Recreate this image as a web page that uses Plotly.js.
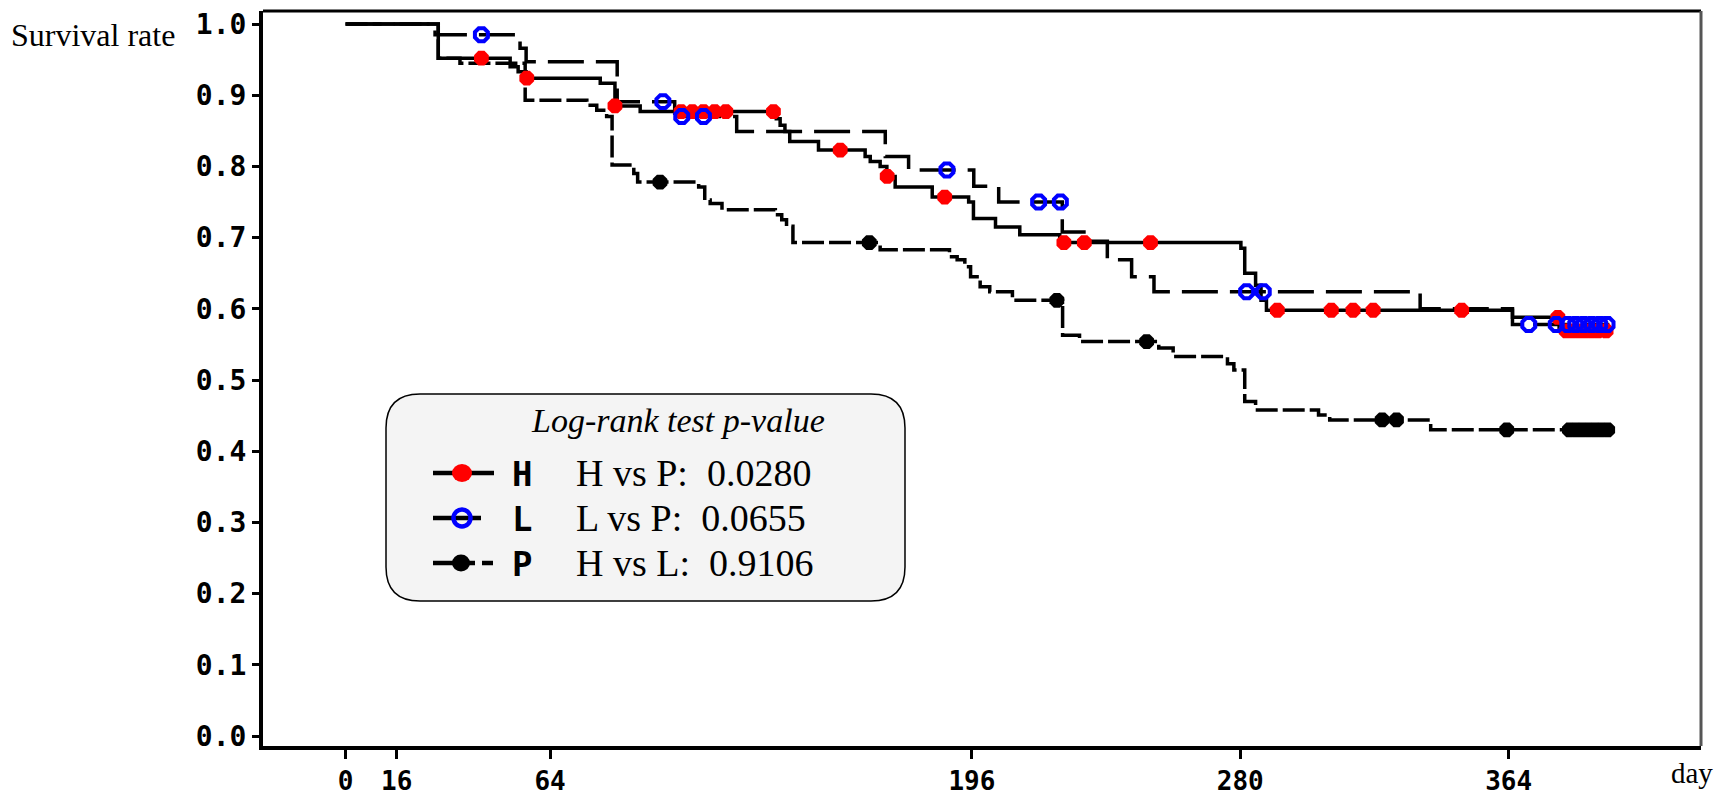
<!DOCTYPE html>
<html>
<head>
<meta charset="utf-8">
<script src="https://cdn.plot.ly/plotly-3.0.1.min.js"></script>
<style>
  html, body { margin: 0; padding: 0; background: #ffffff; }
  #chart { width: 1717px; height: 798px; }
</style>
</head>
<body>
<div id="chart"></div>
<script>
// ---------------- data ----------------
// Kaplan-Meier step curves: event day / survival after that day
const H_days = [0, 29, 51.5, 54, 56.5, 79.7, 84.3, 92.2, 134.8, 136, 137.5, 139, 148, 162.6, 164.2, 167.3, 169.4, 172, 183.6, 195, 196.5, 203.4, 211, 223.5, 280.2, 281.4, 284.8, 286.5, 288.2, 365.2, 379.8, 395.5];
const H_surv = [1.0, 0.952, 0.940, 0.933, 0.924, 0.917, 0.885, 0.877, 0.867, 0.858, 0.849, 0.835, 0.823, 0.814, 0.807, 0.800, 0.786, 0.771, 0.757, 0.750, 0.727, 0.715, 0.704, 0.693, 0.685, 0.650, 0.633, 0.612, 0.598, 0.588, 0.569, 0.569];

const L_days = [0, 28, 54.6, 56.5, 85, 103, 122.4, 168.9, 176.2, 196.6, 204.4, 224.3, 232.6, 238.4, 246, 253, 336.3, 365.2, 395.5];
const L_surv = [1.0, 0.985, 0.966, 0.947, 0.891, 0.870, 0.849, 0.814, 0.795, 0.772, 0.750, 0.708, 0.695, 0.669, 0.645, 0.624, 0.600, 0.578, 0.578];

const P_days = [0, 29, 35.8, 56.2, 75.5, 78.6, 81.7, 83.4, 90.2, 91.4, 110.5, 112.4, 114.1, 117.8, 134.5, 136.5, 138, 140, 167.3, 189, 191.4, 193.8, 195.6, 198.6, 201.6, 208.7, 224.4, 229.7, 254.5, 259, 276, 278, 281.4, 284.8, 304.5, 308, 339.6, 395.5];
const P_surv = [1.0, 0.952, 0.945, 0.893, 0.886, 0.879, 0.870, 0.802, 0.790, 0.778, 0.771, 0.753, 0.748, 0.739, 0.732, 0.725, 0.716, 0.693, 0.683, 0.673, 0.669, 0.659, 0.645, 0.631, 0.624, 0.612, 0.563, 0.554, 0.545, 0.533, 0.523, 0.514, 0.470, 0.458, 0.451, 0.444, 0.430, 0.430];

// censored observations
const H_censDays = [42.5, 56.7, 84.3, 105, 108.5, 112, 115.5, 119, 133.9, 154.8, 169.5, 187.5, 224.8, 231.2, 251.9, 291.6, 308.5, 315.3, 321.6, 349.3, 379.4, 382, 384, 386, 388, 390, 392, 394.5];
const H_censSurv = [0.952, 0.924, 0.885, 0.877, 0.877, 0.877, 0.877, 0.877, 0.877, 0.823, 0.786, 0.757, 0.693, 0.693, 0.693, 0.598, 0.598, 0.598, 0.598, 0.598, 0.588, 0.569, 0.569, 0.569, 0.569, 0.569, 0.569, 0.569];

const L_censDays = [42.5, 99.3, 105.2, 112, 188.2, 216.9, 223.7, 282, 287.2, 370.3, 378.9, 382.5, 385, 387.5, 390, 392.5, 394.8];
const L_censSurv = [0.985, 0.891, 0.870, 0.870, 0.795, 0.750, 0.750, 0.624, 0.624, 0.578, 0.578, 0.578, 0.578, 0.578, 0.578, 0.578, 0.578];

const P_censDays = [98.4, 163.9, 222.6, 250.7, 324.4, 328.9, 363.4, 383, 385, 387, 389, 391, 393, 395];
const P_censSurv = [0.778, 0.693, 0.612, 0.554, 0.444, 0.444, 0.430, 0.430, 0.430, 0.430, 0.430, 0.430, 0.430, 0.430];

// axes
const xTickVals = [0, 16, 64, 196, 280, 364];
const xTickText = ['0', '16', '64', '196', '280', '364'];
const yTickVals = [0.0, 0.1, 0.2, 0.3, 0.4, 0.5, 0.6, 0.7, 0.8, 0.9, 1.0];
const yTickText = ['0.0', '0.1', '0.2', '0.3', '0.4', '0.5', '0.6', '0.7', '0.8', '0.9', '1.0'];

// legend box texts
const groupNames = ['H', 'L', 'P'];
const pTitle = 'Log-rank test p-value';
const pRows = ['H vs P:\u00a0 0.0280', 'L vs P:\u00a0 0.0655', 'H vs L:\u00a0 0.9106'];

// ---------------- layout geometry (pixels) ----------------
const PL = 263, PR = 1701, PT = 11, PB = 746;
const PW = PR - PL, PH = PB - PT;
const fx = X => (X - PL) / PW;
const fy = Y => (PB - Y) / PH;

const serif = 'Liberation Serif, Times New Roman, serif';
const mono = 'DejaVu Sans Mono, monospace';

function stepTrace(x, y, dash) {
  return { x: x, y: y, type: 'scatter', mode: 'lines', line: { shape: 'hv', color: '#000', width: 3.5, dash: dash }, showlegend: false, hoverinfo: 'skip' };
}
function censTrace(x, y, marker) {
  return { x: x, y: y, type: 'scatter', mode: 'markers', marker: marker, showlegend: false, hoverinfo: 'skip' };
}

const traces = [
  stepTrace(P_days, P_surv, '22px,5px'),
  stepTrace(L_days, L_surv, '36px,12px'),
  stepTrace(H_days, H_surv, 'solid'),
  censTrace(P_censDays, P_censSurv, { symbol: 'octagon', size: 16, color: '#000' }),
  censTrace(H_censDays, H_censSurv, { symbol: 'octagon', size: 16, color: '#ff0000', line: { width: 0 } }),
  censTrace(L_censDays, L_censSurv, { symbol: 'octagon-open', size: 14, color: '#0000ff', line: { width: 4, color: '#0000ff' } })
];

// rounded legend box
function roundedRect(x0, y0, x1, y1, r) {
  const p = (X, Y) => fx(X).toFixed(5) + ',' + fy(Y).toFixed(5);
  return 'M' + p(x0 + r, y0) + ' L' + p(x1 - r, y0) + ' Q' + p(x1, y0) + ' ' + p(x1, y0 + r) +
         ' L' + p(x1, y1 - r) + ' Q' + p(x1, y1) + ' ' + p(x1 - r, y1) +
         ' L' + p(x0 + r, y1) + ' Q' + p(x0, y1) + ' ' + p(x0, y1 - r) +
         ' L' + p(x0, y0 + r) + ' Q' + p(x0, y0) + ' ' + p(x0 + r, y0) + ' Z';
}

const rowY = [473, 518, 563];
const shapes = [
  // top and right frame
  { type: 'line', xref: 'paper', yref: 'paper', x0: 0, x1: 1, y0: 1, y1: 1, line: { color: '#000', width: 3 } },
  { type: 'line', xref: 'paper', yref: 'paper', x0: 1, x1: 1, y0: 0, y1: 1, line: { color: '#555', width: 3 } },
  // legend box
  { type: 'path', xref: 'paper', yref: 'paper', path: roundedRect(386, 394, 905, 601, 34), fillcolor: '#f4f4f4', line: { color: '#000', width: 1.5 } },
  // legend sample lines
  { type: 'line', xref: 'paper', yref: 'paper', x0: fx(433), x1: fx(494), y0: fy(rowY[0]), y1: fy(rowY[0]), line: { color: '#000', width: 4.5 } },
  { type: 'line', xref: 'paper', yref: 'paper', x0: fx(433), x1: fx(481), y0: fy(rowY[1]), y1: fy(rowY[1]), line: { color: '#000', width: 4.5 } },
  { type: 'line', xref: 'paper', yref: 'paper', x0: fx(433), x1: fx(475), y0: fy(rowY[2]), y1: fy(rowY[2]), line: { color: '#000', width: 4.5 } },
  { type: 'line', xref: 'paper', yref: 'paper', x0: fx(482), x1: fx(493), y0: fy(rowY[2]), y1: fy(rowY[2]), line: { color: '#000', width: 4.5 } },
  // legend sample markers
  { type: 'circle', xref: 'paper', yref: 'paper', xsizemode: 'pixel', ysizemode: 'pixel', xanchor: fx(462), yanchor: fy(rowY[0]), x0: -10, x1: 10, y0: -9, y1: 9, fillcolor: '#ff0000', line: { width: 0 } },
  { type: 'circle', xref: 'paper', yref: 'paper', xsizemode: 'pixel', ysizemode: 'pixel', xanchor: fx(462), yanchor: fy(rowY[1]), x0: -8.5, x1: 8.5, y0: -8.5, y1: 8.5, fillcolor: 'rgba(0,0,0,0)', line: { color: '#0000ff', width: 4.5 } },
  { type: 'circle', xref: 'paper', yref: 'paper', xsizemode: 'pixel', ysizemode: 'pixel', xanchor: fx(461), yanchor: fy(rowY[2]), x0: -9, x1: 9, y0: -8.5, y1: 8.5, fillcolor: '#000', line: { width: 0 } }
];

const annotations = [
  { text: 'Survival rate', xref: 'paper', yref: 'paper', x: fx(9), y: fy(35), xanchor: 'left', yanchor: 'middle', showarrow: false, font: { family: serif, size: 32, color: '#000' } },
  { text: 'day', xref: 'paper', yref: 'paper', x: fx(1715), y: fy(773), xanchor: 'right', yanchor: 'middle', showarrow: false, font: { family: serif, size: 29, color: '#000' } },
  { text: '<i>' + pTitle + '</i>', xref: 'paper', yref: 'paper', x: fx(678), y: fy(421), xanchor: 'center', yanchor: 'middle', showarrow: false, font: { family: serif, size: 34, color: '#000' } }
];
groupNames.forEach((g, i) => {
  annotations.push({ text: '<b>' + g + '</b>', xref: 'paper', yref: 'paper', x: fx(510), y: fy(rowY[i] + 1), xanchor: 'left', yanchor: 'middle', showarrow: false, font: { family: mono, size: 34, color: '#000', weight: 'bold' } });
  annotations.push({ text: pRows[i], xref: 'paper', yref: 'paper', x: fx(574), y: fy(rowY[i]), xanchor: 'left', yanchor: 'middle', showarrow: false, font: { family: serif, size: 38, color: '#000' } });
});

const yTickFont = { family: mono, size: 28, color: '#000', weight: 'bold' };
const xTickFont = { family: mono, size: 26, color: '#000', weight: 'bold' };

const layout = {
  width: 1717, height: 798,
  margin: { l: PL, r: 1717 - PR, t: PT, b: 798 - PB, pad: 0 },
  paper_bgcolor: '#ffffff', plot_bgcolor: '#ffffff',
  showlegend: false,
  xaxis: {
    range: [-25.85, 424.2], tickmode: 'array', tickvals: xTickVals, ticktext: xTickText,
    ticks: 'outside', ticklen: 9, tickwidth: 3, tickcolor: '#000',
    showline: true, linewidth: 4, linecolor: '#000', showgrid: false, zeroline: false,
    tickfont: xTickFont, fixedrange: true
  },
  yaxis: {
    range: [-0.014, 1.0183], tickmode: 'array', tickvals: yTickVals, ticktext: yTickText,
    ticks: 'outside', ticklen: 7, tickwidth: 3, tickcolor: '#000',
    showline: true, linewidth: 4, linecolor: '#000', showgrid: false, zeroline: false,
    tickfont: yTickFont, fixedrange: true
  },
  shapes: shapes,
  annotations: annotations
};

Plotly.newPlot('chart', traces, layout, { displayModeBar: false, staticPlot: true });
</script>
</body>
</html>
